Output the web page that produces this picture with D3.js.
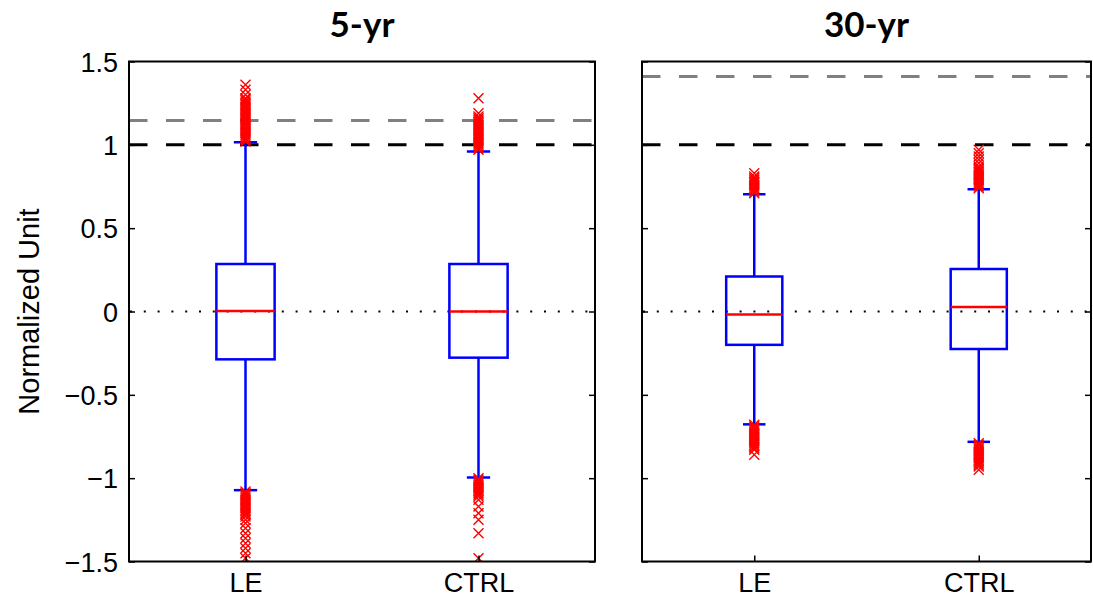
<!DOCTYPE html>
<html>
<head>
<meta charset="utf-8">
<script src="https://cdn.jsdelivr.net/npm/d3@7"></script>
<style>
  html, body { margin: 0; padding: 0; background: #fff; }
  svg { display: block; }
</style>
</head>
<body>
<svg id="chart" width="1093" height="605"></svg>
<script>
// ---- data ----
const categories = ["LE", "CTRL"];
const panelTitles = ["5-yr", "30-yr"];
const yTicks = [-1.5, -1, -0.5, 0, 0.5, 1, 1.5];
const yLabel = "Normalized Unit";

// box statistics per panel: [LE, CTRL]
const q1_5yr = [-0.287, -0.277];
const median_5yr = [0.003, 0.0];
const q3_5yr = [0.285, 0.285];
const whiskerLow_5yr = [-1.072, -0.996];
const whiskerHigh_5yr = [1.015, 0.96];

const q1_30yr = [-0.2, -0.225];
const median_30yr = [-0.018, 0.027];
const q3_30yr = [0.21, 0.255];
const whiskerLow_30yr = [-0.677, -0.782];
const whiskerHigh_30yr = [0.704, 0.734];

// reference levels (dashed lines)
const refBlack = [1.0, 1.0];
const refGray = [1.146, 1.41];

// outliers
const outliersLE_5yr = [
  1.02, 1.03, 1.04, 1.05, 1.06, 1.07, 1.08, 1.09, 1.10, 1.11, 1.12, 1.13, 1.14,
  1.15, 1.16, 1.17, 1.18, 1.19, 1.20, 1.21, 1.22, 1.23, 1.24, 1.25, 1.26, 1.27,
  1.28, 1.30, 1.33, 1.36,
  -1.08, -1.09, -1.10, -1.11, -1.12, -1.13, -1.14, -1.15, -1.16, -1.17, -1.18,
  -1.19, -1.20, -1.21, -1.22, -1.23, -1.25, -1.27, -1.30, -1.33, -1.36, -1.39,
  -1.42, -1.45, -1.48
];
const outliersCTRL_5yr = [
  0.97, 0.98, 0.99, 1.00, 1.01, 1.02, 1.03, 1.04, 1.05, 1.06, 1.07, 1.08, 1.09,
  1.10, 1.11, 1.12, 1.13, 1.14, 1.15, 1.16, 1.17, 1.19, 1.28,
  -1.00, -1.01, -1.02, -1.03, -1.04, -1.05, -1.06, -1.07, -1.08, -1.09, -1.10,
  -1.11, -1.13, -1.17, -1.21, -1.25, -1.33, -1.48
];
const outliersLE_30yr = [
  0.71, 0.72, 0.73, 0.74, 0.75, 0.76, 0.77, 0.78, 0.79, 0.80, 0.81, 0.83,
  -0.68, -0.69, -0.70, -0.71, -0.72, -0.73, -0.74, -0.75, -0.76, -0.77, -0.78,
  -0.79, -0.80, -0.81, -0.82, -0.83, -0.86
];
const outliersCTRL_30yr = [
  0.74, 0.75, 0.76, 0.77, 0.78, 0.79, 0.80, 0.81, 0.82, 0.83, 0.84, 0.85, 0.86,
  0.87, 0.89, 0.91, 0.93, 0.95, 0.97,
  -0.79, -0.80, -0.81, -0.82, -0.83, -0.84, -0.85, -0.86, -0.87, -0.88, -0.89,
  -0.90, -0.91, -0.92, -0.93, -0.95
];

// ---- assemble panel tables ----
function buildBoxes(q1, med, q3, wl, wh, outs) {
  return categories.map((c, i) => ({
    cat: c, pos: i + 1, q1: q1[i], median: med[i], q3: q3[i],
    lo: wl[i], hi: wh[i], outliers: outs[i]
  }));
}
const panels = [
  { title: panelTitles[0], x0: 129, x1: 595, showYLabels: true, black: refBlack[0], gray: refGray[0],
    boxes: buildBoxes(q1_5yr, median_5yr, q3_5yr, whiskerLow_5yr, whiskerHigh_5yr,
                      [outliersLE_5yr, outliersCTRL_5yr]) },
  { title: panelTitles[1], x0: 642, x1: 1091, showYLabels: false, black: refBlack[1], gray: refGray[1],
    boxes: buildBoxes(q1_30yr, median_30yr, q3_30yr, whiskerLow_30yr, whiskerHigh_30yr,
                      [outliersLE_30yr, outliersCTRL_30yr]) }
];

// ---- drawing ----
const svg = d3.select("#chart");
const yTop = 61.5, yBottom = 561.5;
const y = d3.scaleLinear().domain([-1.5, 1.5]).range([yBottom, yTop]);
const FONT = "'Liberation Sans', Arial, Helvetica, sans-serif";

panels.forEach(p => {
  const x = d3.scaleLinear().domain([0.5, 2.5]).range([p.x0, p.x1]);
  const unit = x(1) - x(0);
  const boxHalf = unit * 0.125;
  const capHalf = unit * 0.05;
  const g = svg.append("g");

  // clip to plot area
  const clipId = "clip-" + p.title;
  svg.append("clipPath").attr("id", clipId)
    .append("rect").attr("x", p.x0).attr("y", yTop).attr("width", p.x1 - p.x0).attr("height", yBottom - yTop);
  const plot = g.append("g").attr("clip-path", `url(#${clipId})`);

  // zero reference line (dotted)
  plot.append("line")
    .attr("x1", p.x0).attr("x2", p.x1).attr("y1", y(0)).attr("y2", y(0))
    .attr("stroke", "#000").attr("stroke-width", 2).attr("stroke-dasharray", "2,11.8")
    .attr("stroke-dashoffset", -1);

  // dashed reference levels
  plot.append("line")
    .attr("x1", p.x0).attr("x2", p.x1).attr("y1", y(p.gray)).attr("y2", y(p.gray))
    .attr("stroke", "#808080").attr("stroke-width", 3).attr("stroke-dasharray", "18.5,18.5");
  plot.append("line")
    .attr("x1", p.x0).attr("x2", p.x1).attr("y1", y(p.black)).attr("y2", y(p.black))
    .attr("stroke", "#000").attr("stroke-width", 3).attr("stroke-dasharray", "18.5,18.5");

  p.boxes.forEach(b => {
    const cx = x(b.pos);
    const blue = "#0000ff", red = "#ff0000";
    // whiskers
    plot.append("line").attr("x1", cx).attr("x2", cx).attr("y1", y(b.q3)).attr("y2", y(b.hi))
      .attr("stroke", blue).attr("stroke-width", 2.5);
    plot.append("line").attr("x1", cx).attr("x2", cx).attr("y1", y(b.q1)).attr("y2", y(b.lo))
      .attr("stroke", blue).attr("stroke-width", 2.5);
    // caps
    [b.hi, b.lo].forEach(v => {
      plot.append("line").attr("x1", cx - capHalf).attr("x2", cx + capHalf)
        .attr("y1", y(v)).attr("y2", y(v)).attr("stroke", blue).attr("stroke-width", 2.5);
    });
    // box
    plot.append("rect").attr("x", cx - boxHalf).attr("width", 2 * boxHalf)
      .attr("y", y(b.q3)).attr("height", y(b.q1) - y(b.q3))
      .attr("fill", "none").attr("stroke", blue).attr("stroke-width", 2.5);
    // median
    plot.append("line").attr("x1", cx - boxHalf).attr("x2", cx + boxHalf)
      .attr("y1", y(b.median)).attr("y2", y(b.median)).attr("stroke", red).attr("stroke-width", 2.5);
    // outliers as x markers
    const s = 5;
    plot.append("g").selectAll("path").data(b.outliers).join("path")
      .attr("d", v => {
        const py = y(v);
        return `M${cx - s},${py - s}L${cx + s},${py + s}M${cx - s},${py + s}L${cx + s},${py - s}`;
      })
      .attr("stroke", red).attr("stroke-width", 1.4).attr("fill", "none");
  });

  // axes: inward ticks on both sides
  const leftAxis = d3.axisLeft(y).tickValues(yTicks).tickSizeInner(-6).tickSizeOuter(0)
    .tickFormat(p.showYLabels ? (d => d3.format("")(d).replace("-", "\u2212")) : (() => ""));
  const la = g.append("g").attr("transform", `translate(${p.x0},0)`).call(leftAxis);
  la.select(".domain").remove();
  la.selectAll(".tick line").attr("stroke", "#000").attr("stroke-width", 1.5);
  la.selectAll(".tick text").attr("x", -11).attr("dy", "0.36em")
    .attr("font-family", FONT).attr("font-size", 27).attr("fill", "#000");

  const rightAxis = d3.axisRight(y).tickValues(yTicks).tickSizeInner(-6).tickSizeOuter(0).tickFormat(() => "");
  const ra = g.append("g").attr("transform", `translate(${p.x1},0)`).call(rightAxis);
  ra.select(".domain").remove();
  ra.selectAll(".tick line").attr("stroke", "#000").attr("stroke-width", 1.5);

  const bottomAxis = d3.axisBottom(x).tickValues([1, 2]).tickSizeInner(-6).tickSizeOuter(0)
    .tickFormat((d, i) => categories[i]);
  const ba = g.append("g").attr("transform", `translate(0,${yBottom})`).call(bottomAxis);
  ba.select(".domain").remove();
  ba.selectAll(".tick line").attr("stroke", "#000").attr("stroke-width", 1.5);
  ba.selectAll(".tick text").attr("y", 11).attr("dy", "0.71em")
    .attr("font-family", FONT).attr("font-size", 27).attr("fill", "#000");

  // frame
  g.append("rect").attr("x", p.x0).attr("y", yTop).attr("width", p.x1 - p.x0).attr("height", yBottom - yTop)
    .attr("fill", "none").attr("stroke", "#000").attr("stroke-width", 2);

  // title
  g.append("text").attr("x", (p.x0 + p.x1) / 2).attr("y", 37).attr("text-anchor", "middle")
    .attr("font-family", "Lato, 'Open Sans', sans-serif").attr("font-weight", "bold")
    .attr("font-size", 35).attr("fill", "#000").text(p.title);
});

// y-axis label
svg.append("text")
  .attr("transform", `translate(39,${(yTop + yBottom) / 2}) rotate(-90)`)
  .attr("text-anchor", "middle").attr("font-family", FONT).attr("font-size", 29)
  .attr("fill", "#000").text(yLabel);
</script>
</body>
</html>
